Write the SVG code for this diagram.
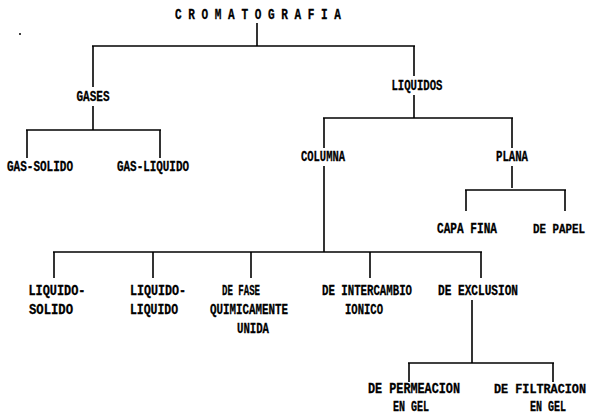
<svg xmlns="http://www.w3.org/2000/svg" width="592" height="415" viewBox="0 0 592 415">
<style>
  text { font-family: "Liberation Mono", "DejaVu Sans Mono", monospace; font-weight: bold; font-size: 14px; fill: #000; stroke: #000; stroke-width: 0.3; text-anchor: middle; }
  text.edge { font-size: 12.5px; }
  .c line { stroke: #000; stroke-width: 1.6; fill: none; }
</style>
<rect width="592" height="415" fill="#fff"/>
<circle cx="20" cy="34" r="1" fill="#000"/>
<g id="connectors" class="c">
  <line x1="257" y1="23" x2="257" y2="46"/>
  <line x1="92" y1="46" x2="415" y2="46"/>
  <line x1="93" y1="46" x2="93" y2="87"/>
  <line x1="93" y1="106" x2="93" y2="130"/>
  <line x1="26" y1="130" x2="161" y2="130"/>
  <line x1="27" y1="130" x2="27" y2="158"/>
  <line x1="160" y1="130" x2="160" y2="158"/>
  <line x1="414" y1="46" x2="414" y2="76"/>
  <line x1="414" y1="95" x2="414" y2="118"/>
  <line x1="323" y1="118" x2="513" y2="118"/>
  <line x1="324" y1="118" x2="324" y2="148"/>
  <line x1="512" y1="118" x2="512" y2="148"/>
  <line x1="324" y1="166" x2="324" y2="252"/>
  <line x1="512" y1="166" x2="512" y2="188"/>
  <line x1="465" y1="190" x2="566" y2="190"/>
  <line x1="466" y1="190" x2="466" y2="211"/>
  <line x1="565" y1="190" x2="565" y2="211"/>
  <line x1="53" y1="252" x2="482" y2="252"/>
  <line x1="54" y1="252" x2="54" y2="278"/>
  <line x1="153" y1="252" x2="153" y2="278"/>
  <line x1="251" y1="252" x2="251" y2="278"/>
  <line x1="370" y1="252" x2="370" y2="278"/>
  <line x1="481" y1="252" x2="481" y2="278"/>
  <line x1="472" y1="300" x2="472" y2="363"/>
  <line x1="408" y1="363" x2="554" y2="363"/>
  <line x1="409" y1="363" x2="409" y2="382"/>
  <line x1="553" y1="363" x2="553" y2="382"/>
</g>
<g id="cromatografia"><text x="258" y="19" textLength="166" lengthAdjust="spacingAndGlyphs">C R O M A T O G R A F I A</text></g>
<g id="gases"><text x="93" y="101" textLength="33" lengthAdjust="spacingAndGlyphs">GASES</text></g>
<g id="liquidos"><text x="417" y="90" textLength="51" lengthAdjust="spacingAndGlyphs">LIQUIDOS</text></g>
<g id="gas-solido"><text x="40" y="171" textLength="66" lengthAdjust="spacingAndGlyphs">GAS-SOLIDO</text></g>
<g id="gas-liquido"><text x="153" y="171" textLength="72" lengthAdjust="spacingAndGlyphs">GAS-LIQUIDO</text></g>
<g id="columna"><text x="323" y="161" textLength="44" lengthAdjust="spacingAndGlyphs">COLUMNA</text></g>
<g id="plana"><text x="512" y="161" textLength="32" lengthAdjust="spacingAndGlyphs">PLANA</text></g>
<g id="capa-fina"><text x="467" y="233" textLength="60" lengthAdjust="spacingAndGlyphs">CAPA FINA</text></g>
<g id="de-papel"><text class="edge" x="559" y="233" textLength="52" lengthAdjust="spacingAndGlyphs">DE PAPEL</text></g>
<g id="liquido-solido">
  <text x="57" y="295" textLength="57" lengthAdjust="spacingAndGlyphs">LIQUIDO-</text>
  <text x="51" y="314" textLength="44" lengthAdjust="spacingAndGlyphs">SOLIDO</text>
</g>
<g id="liquido-liquido">
  <text x="158" y="295" textLength="56" lengthAdjust="spacingAndGlyphs">LIQUIDO-</text>
  <text x="154" y="314" textLength="48" lengthAdjust="spacingAndGlyphs">LIQUIDO</text>
</g>
<g id="fase-quimicamente-unida">
  <text x="241" y="295" textLength="38" lengthAdjust="spacingAndGlyphs">DE FASE</text>
  <text x="249" y="314" textLength="78" lengthAdjust="spacingAndGlyphs">QUIMICAMENTE</text>
  <text x="253" y="333" textLength="32" lengthAdjust="spacingAndGlyphs">UNIDA</text>
</g>
<g id="intercambio-ionico">
  <text x="367" y="295" textLength="90" lengthAdjust="spacingAndGlyphs">DE INTERCAMBIO</text>
  <text x="364" y="314" textLength="38" lengthAdjust="spacingAndGlyphs">IONICO</text>
</g>
<g id="exclusion"><text x="478" y="295" textLength="80" lengthAdjust="spacingAndGlyphs">DE EXCLUSION</text></g>
<g id="permeacion">
  <text x="414" y="393" textLength="92" lengthAdjust="spacingAndGlyphs">DE PERMEACION</text>
  <text x="411" y="411" textLength="36" lengthAdjust="spacingAndGlyphs">EN GEL</text>
</g>
<g id="filtracion">
  <text class="edge" x="540" y="393" textLength="92" lengthAdjust="spacingAndGlyphs">DE FILTRACION</text>
  <text x="548" y="411" textLength="36" lengthAdjust="spacingAndGlyphs">EN GEL</text>
</g>
</svg>
